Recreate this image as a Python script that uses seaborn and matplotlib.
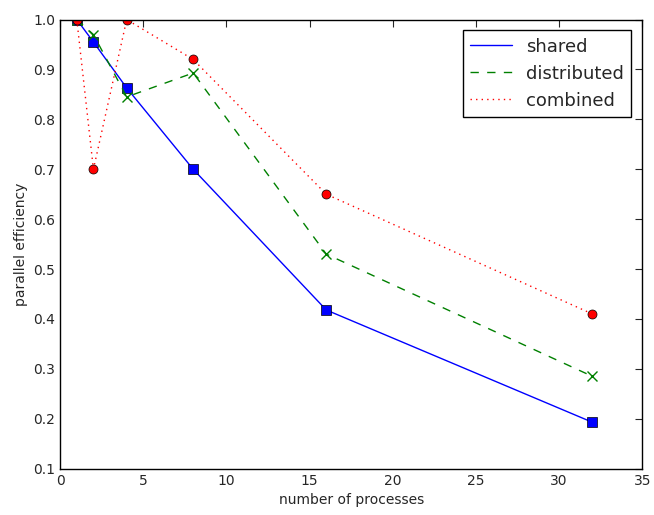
import pandas as pd
import numpy as np
import matplotlib
matplotlib.use('Agg')
import matplotlib.pyplot as plt
import seaborn as sns

procs = [1, 2, 4, 8, 16, 32]
shared = [1.0, 0.955, 0.863, 0.70, 0.418, 0.193]
distributed = [1.0, 0.97, 0.845, 0.893, 0.53, 0.285]
combined = [1.0, 0.70, 1.0, 0.92, 0.65, 0.41]

sns.set_style('white')
plt.rcParams['font.family'] = ['DejaVu Sans']
# classic dash patterns
plt.rcParams['lines.dashed_pattern'] = [6, 6]
plt.rcParams['lines.dotted_pattern'] = [1, 3]
plt.rcParams['lines.scale_dashes'] = False

fig, ax = plt.subplots(figsize=(6.54, 5.15), dpi=100)

series = [
    ('shared', shared, 'blue', '-', 's'),
    ('distributed', distributed, 'green', '--', 'x'),
    ('combined', combined, 'red', ':', 'o'),
]
for name, vals, col, ls, mk in series:
    sns.lineplot(x=procs, y=vals, ax=ax, color=col, linestyle=ls, linewidth=1, label=name)
    sns.lineplot(x=procs, y=vals, ax=ax, color=col, linestyle='none', marker=mk,
                 markersize=6.5, markeredgecolor=col if mk == 'x' else 'black',
                 markeredgewidth=0.5 if mk != 'x' else 1, legend=False)

ax.set_xlim(0, 35)
ax.set_ylim(0.1, 1.0)
ax.set_xlabel('number of processes', fontsize=10)
ax.set_ylabel('parallel efficiency', fontsize=10)
ax.tick_params(direction='in', top=True, right=True, length=5, labelsize=10)
for s in ax.spines.values():
    s.set_color('black')
    s.set_linewidth(1)

leg = ax.legend(loc='upper right', fontsize=13, fancybox=False, framealpha=1,
                edgecolor='black', handlelength=2.3, borderaxespad=0.6)
leg.get_frame().set_linewidth(1)

plt.subplots_adjust(left=0.092, right=0.982, top=0.962, bottom=0.09)
plt.savefig('out.png', dpi=100)
